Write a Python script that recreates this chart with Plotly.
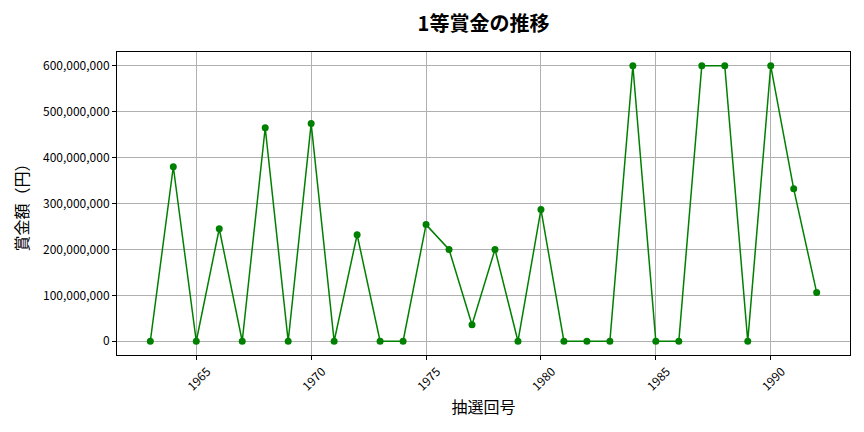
import plotly.graph_objects as go

draws = list(range(1963, 1993))
prizes = [0, 380_000_000, 0, 245_000_000, 0, 465_000_000, 0, 474_000_000, 0, 232_000_000,
          0, 0, 254_000_000, 200_000_000, 36_000_000, 200_000_000, 0, 287_000_000, 0, 0,
          0, 600_000_000, 0, 0, 600_000_000, 600_000_000, 0, 600_000_000, 332_000_000, 106_000_000]
y_ticks = [0, 100_000_000, 200_000_000, 300_000_000, 400_000_000, 500_000_000, 600_000_000]
y_tick_labels = [f"{v:,}" for v in y_ticks]
x_ticks = [1965, 1970, 1975, 1980, 1985, 1990]

FONT = "Noto Sans CJK JP"

fig = go.Figure()
fig.add_trace(go.Scatter(
    x=draws, y=prizes, mode="lines+markers",
    line=dict(color="green", width=1.5),
    marker=dict(color="green", size=7),
    showlegend=False,
))

axis_common = dict(
    showline=True, linecolor="black", linewidth=1, mirror=True,
    showgrid=True, gridcolor="#b0b0b0", gridwidth=0.8,
    ticks="outside", ticklen=4, tickcolor="black",
    zeroline=False,
    tickfont=dict(family=FONT, size=12, color="black"),
)

fig.update_layout(
    width=864, height=432,
    margin=dict(l=117, r=14, t=52, b=77, autoexpand=False),
    paper_bgcolor="white", plot_bgcolor="white",
    font=dict(family=FONT, color="black"),
    title=dict(text="<b>1等賞金の推移</b>", x=0.5, xref="paper", y=0.944, yref="container",
               xanchor="center", yanchor="middle",
               font=dict(family=FONT, size=20, color="black")),
    xaxis=dict(range=[1961.55, 1993.45], tickvals=x_ticks, tickangle=-45,
               ticklabelshift=11,
               title=dict(text="抽選回号", font=dict(family=FONT, size=16), standoff=9),
               **axis_common),
    yaxis=dict(range=[-30_000_000, 630_000_000], tickvals=y_ticks, ticktext=y_tick_labels,
               title=dict(text="賞金額（円）", font=dict(family=FONT, size=16), standoff=10),
               **axis_common),
)

fig.write_html("out.html", config={"displayModeBar": False},
               post_script="document.body.style.margin='0';")
